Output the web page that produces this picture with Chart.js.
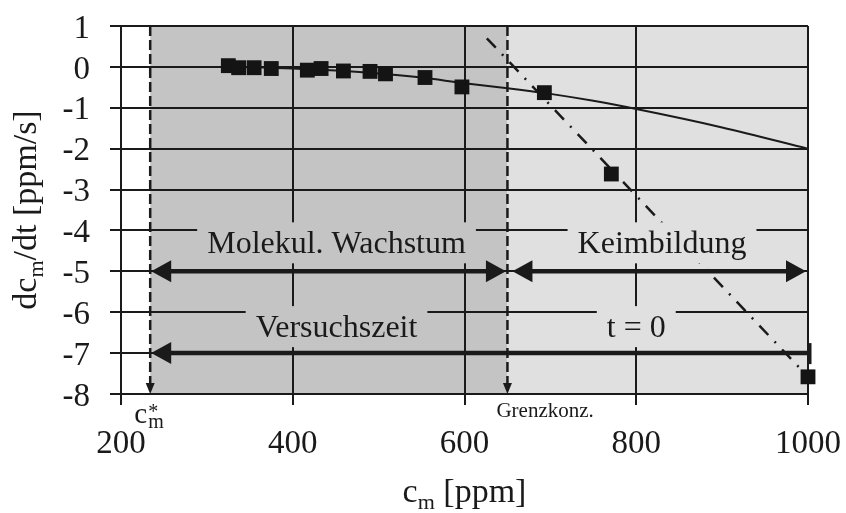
<!DOCTYPE html>
<html>
<head>
<meta charset="utf-8">
<script src="https://cdn.jsdelivr.net/npm/chart.js@4"></script>
<style>
  html, body { margin: 0; padding: 0; background: #fff; }
</style>
</head>
<body>
<canvas id="rateChart" width="846" height="513"></canvas>
<script>
// Messwerte: Konzentration c_m [ppm] und Rate dc_m/dt [ppm/s]
const cmValues   = [325, 337, 355, 375, 417, 433, 459, 490, 508, 554, 597, 693, 771, 1000];
const rateValues = [0.03, -0.02, -0.02, -0.04, -0.08, -0.04, -0.10, -0.11, -0.17, -0.26, -0.49, -0.63, -2.62, -7.58];

// Ausgleichskurve (durchgezogen)
const fitX = [325, 350, 400, 450, 500, 550, 600, 650, 700, 750, 800, 900, 1000];
const fitY = [0.0, -0.01, -0.04, -0.09, -0.16, -0.26, -0.40, -0.52, -0.66, -0.83, -1.03, -1.48, -2.0];

// Gerade im Keimbildungsbereich (strich-punktiert)
const nucX = [626, 1000];
const nucY = [0.7, -7.58];

const xTicks = [200, 400, 600, 800, 1000];
const yTicks = [1, 0, -1, -2, -3, -4, -5, -6, -7, -8];

// Grenzen der Bereiche
const cmStar = 234;
const cmLimit = 650;

const serif = '"Liberation Serif", "Times New Roman", serif';
const ink = '#1a1a1a';
const darkFill = '#c4c4c4';
const lightFill = '#e0e0e0';

const toPoints = (xs, ys) => xs.map((v, i) => ({ x: v, y: ys[i] }));

// graue Hintergrundflaechen unter dem Gitter
const shading = {
  id: 'shading',
  beforeDraw(chart) {
    const { ctx, chartArea: a, scales: { x } } = chart;
    ctx.save();
    ctx.fillStyle = '#fff';
    ctx.fillRect(0, 0, chart.width, chart.height);
    const x1 = x.getPixelForValue(cmStar);
    const x2 = x.getPixelForValue(cmLimit);
    ctx.fillStyle = darkFill;
    ctx.fillRect(x1, a.top, x2 - x1, a.bottom - a.top);
    ctx.fillStyle = lightFill;
    ctx.fillRect(x2, a.top, a.right - x2, a.bottom - a.top);
    ctx.restore();
  }
};

function arrowHead(ctx, x, y, dir) {
  ctx.beginPath();
  ctx.moveTo(x, y);
  ctx.lineTo(x - dir * 20, y - 11);
  ctx.lineTo(x - dir * 20, y + 11);
  ctx.closePath();
  ctx.fill();
}

function hArrow(ctx, x1, x2, y, headL, headR) {
  ctx.lineWidth = 4.5;
  ctx.beginPath();
  ctx.moveTo(x1 + (headL ? 10 : 0), y);
  ctx.lineTo(x2 - (headR ? 10 : 0), y);
  ctx.stroke();
  if (headL) arrowHead(ctx, x1, y, -1);
  if (headR) arrowHead(ctx, x2, y, 1);
}

function boxedText(ctx, text, cx, baseline, fill) {
  ctx.font = '32px ' + serif;
  const w = ctx.measureText(text).width;
  ctx.fillStyle = fill;
  ctx.fillRect(cx - w / 2 - 10, baseline - 31, w + 20, 41);
  ctx.fillStyle = ink;
  ctx.textAlign = 'center';
  ctx.textBaseline = 'alphabetic';
  ctx.fillText(text, cx, baseline);
}

function dropLine(ctx, x, top, bottom) {
  ctx.lineWidth = 2.5;
  ctx.setLineDash([10, 4]);
  ctx.beginPath();
  ctx.moveTo(x, top);
  ctx.lineTo(x, bottom - 9);
  ctx.stroke();
  ctx.setLineDash([]);
  ctx.beginPath();
  ctx.moveTo(x, bottom);
  ctx.lineTo(x - 4.5, bottom - 11);
  ctx.lineTo(x + 4.5, bottom - 11);
  ctx.closePath();
  ctx.fill();
}

// Text mit tiefgestelltem Index, runs: [{t, sub}]
function runsWidth(ctx, runs, size) {
  let w = 0;
  for (const r of runs) {
    ctx.font = (r.sub ? Math.round(size * 0.65) : size) + 'px ' + serif;
    w += ctx.measureText(r.t).width;
  }
  return w;
}

function drawRuns(ctx, runs, cx, baseline, size) {
  let x = cx - runsWidth(ctx, runs, size) / 2;
  ctx.textAlign = 'left';
  ctx.textBaseline = 'alphabetic';
  for (const r of runs) {
    ctx.font = (r.sub ? Math.round(size * 0.65) : size) + 'px ' + serif;
    ctx.fillText(r.t, x, baseline + (r.sub ? size * 0.22 : 0));
    x += ctx.measureText(r.t).width;
  }
}

const annotations = {
  id: 'annotations',
  afterDatasetsDraw(chart) {
    const { ctx, chartArea: a, scales: { x, y } } = chart;
    const xs = x.getPixelForValue(cmStar);
    const xl = x.getPixelForValue(cmLimit);
    const xr = x.getPixelForValue(1000);
    ctx.save();
    ctx.fillStyle = ink;
    ctx.strokeStyle = ink;

    dropLine(ctx, xs, a.top, a.bottom);
    dropLine(ctx, xl, a.top, a.bottom);

    boxedText(ctx, 'Molekul. Wachstum', x.getPixelForValue(451), y.getPixelForValue(-5) - 18, darkFill);
    boxedText(ctx, 'Keimbildung', x.getPixelForValue(830), y.getPixelForValue(-5) - 18, lightFill);
    boxedText(ctx, 'Versuchszeit', x.getPixelForValue(451), y.getPixelForValue(-7) - 16, darkFill);
    boxedText(ctx, 't = 0', x.getPixelForValue(800), y.getPixelForValue(-7) - 16, lightFill);

    ctx.fillStyle = ink;
    const y5 = y.getPixelForValue(-5);
    const y7 = y.getPixelForValue(-7);
    hArrow(ctx, xs + 1, xl - 1.5, y5, true, true);
    hArrow(ctx, xl + 5, xr - 2, y5, true, true);
    hArrow(ctx, xs + 1, xr + 2, y7, true, false);
    ctx.fillRect(xr, y7 - 10, 3.5, 21);

    // Beschriftung der Grenzlinien
    ctx.textAlign = 'left';
    ctx.textBaseline = 'alphabetic';
    ctx.font = '29px ' + serif;
    ctx.fillText('c', xs - 16, a.bottom + 29);
    ctx.font = '20px ' + serif;
    ctx.fillText('*', xs - 2, a.bottom + 24);
    ctx.fillText('m', xs - 2, a.bottom + 34);
    ctx.font = '21px ' + serif;
    ctx.fillText('Grenzkonz.', xl - 11, a.bottom + 23);

    // Achsentitel
    drawRuns(ctx, [{ t: 'c' }, { t: 'm', sub: true }, { t: ' [ppm]' }], (a.left + a.right) / 2, 502, 34);
    ctx.translate(36, (a.top + a.bottom) / 2);
    ctx.rotate(-Math.PI / 2);
    drawRuns(ctx, [{ t: 'dc' }, { t: 'm', sub: true }, { t: '/dt [ppm/s]' }], 0, 0, 34);
    ctx.restore();
  }
};

const gridStyle = { color: ink, lineWidth: 2, tickLength: 11, drawTicks: true };
const tickStyle = { font: { family: serif, size: 33 }, color: ink, padding: 20, autoSkip: false, maxRotation: 0, callback: v => String(v) };

new Chart(document.getElementById('rateChart'), {
  type: 'scatter',
  data: {
    datasets: [
      {
        label: 'Messwerte',
        data: toPoints(cmValues, rateValues),
        pointStyle: 'rect',
        pointRadius: 10.5,
        backgroundColor: '#141414',
        borderWidth: 0,
        showLine: false,
        clip: false
      },
      {
        label: 'Ausgleichskurve',
        data: toPoints(fitX, fitY),
        showLine: true,
        pointRadius: 0,
        borderColor: ink,
        borderWidth: 2,
        cubicInterpolationMode: 'monotone'
      },
      {
        label: 'Keimbildung',
        data: toPoints(nucX, nucY),
        showLine: true,
        pointRadius: 0,
        borderColor: ink,
        borderWidth: 2.5,
        borderDash: [13, 9, 2, 9]
      }
    ]
  },
  options: {
    responsive: false,
    animation: false,
    devicePixelRatio: 1,
    layout: { padding: { top: 26, right: 38, left: 0, bottom: 0 } },
    plugins: { legend: { display: false }, tooltip: { enabled: false } },
    scales: {
      x: {
        type: 'linear',
        min: xTicks[0],
        max: xTicks[xTicks.length - 1],
        afterBuildTicks: s => { s.ticks = xTicks.map(v => ({ value: v })); },
        afterFit: s => { s.height = 119; s.paddingLeft = 0; s.paddingRight = 0; },
        grid: gridStyle,
        border: { color: ink, width: 2 },
        ticks: tickStyle
      },
      y: {
        type: 'linear',
        min: yTicks[yTicks.length - 1],
        max: yTicks[0],
        afterBuildTicks: s => { s.ticks = yTicks.slice().reverse().map(v => ({ value: v })); },
        afterFit: s => { s.width = 121; s.paddingTop = 0; s.paddingBottom = 0; },
        grid: gridStyle,
        border: { color: ink, width: 2 },
        ticks: { ...tickStyle, labelOffset: 3 }
      }
    }
  },
  plugins: [shading, annotations]
});
</script>
</body>
</html>
